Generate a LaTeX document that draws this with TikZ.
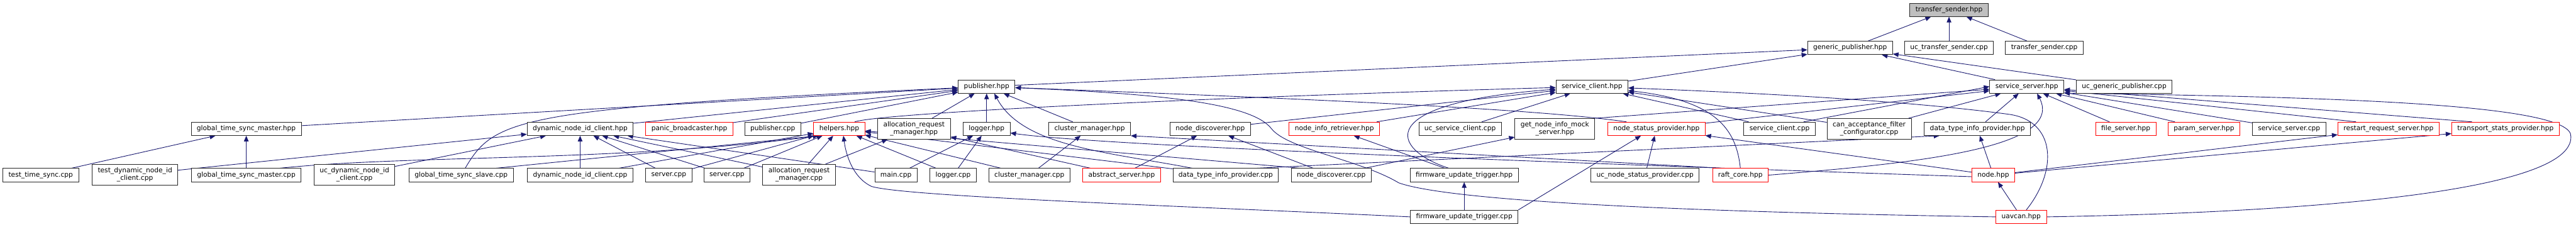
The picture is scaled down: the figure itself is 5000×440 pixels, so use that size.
\documentclass[tikz,border=0pt]{standalone}
\usepackage{fontspec}
\setmainfont{DejaVu Sans}
\usetikzlibrary{arrows.meta,backgrounds}
\definecolor{edgeblue}{RGB}{25,25,112}
\definecolor{rootgrey}{RGB}{191,191,191}
\tikzset{
    filebox/.style={
        draw=black!85,
        fill=white,
        line width=1pt,
        font=\fontsize{13pt}{15pt}\selectfont,
        align=center,
        inner xsep=11pt,
        inner ysep=6pt,
        minimum height=26pt
    },
    redbox/.style={filebox, draw=red},
    rootbox/.style={filebox, fill=rootgrey},
    incl/.style={-{Triangle[length=11pt,width=9pt]}, draw=edgeblue, line width=1.1pt}
}

\begin{document}
\begin{tikzpicture}[x=1pt,y=-1pt]
\useasboundingbox (0,0) rectangle (5000,440);

% ROOT
\node[rootbox] (ts) at (3783,19) {transfer\_sender.hpp};

% LEVEL 1
\node[filebox] (gpub)  at (3591,93) {generic\_publisher.hpp};
\node[filebox] (ucts)  at (3783,93) {uc\_transfer\_sender.cpp};
\node[filebox] (tscpp) at (3968,93) {transfer\_sender.cpp};

% LEVEL 2
\node[filebox] (pub)    at (1915,168) {publisher.hpp};
\node[filebox] (sc)     at (3090,168) {service\_client.hpp};
\node[filebox] (ss)     at (3934,168) {service\_server.hpp};
\node[filebox] (ucgpub) at (4123,168) {uc\_generic\_publisher.cpp};

% LEVEL 3
\node[filebox] (gtsmh)     at (478,250)  {global\_time\_sync\_master.hpp};
\node[filebox] (dnich)     at (1126,250) {dynamic\_node\_id\_client.hpp};
\node[redbox]  (panic)     at (1338,250) {panic\_broadcaster.hpp};
\node[filebox] (pubcpp)    at (1500,250) {publisher.cpp};
\node[redbox]  (helpers)   at (1629,250) {helpers.hpp};
\node[filebox] (armh)      at (1774,250) {allocation\_request\\\_manager.hpp};
\node[filebox] (loggerh)   at (1915,250) {logger.hpp};
\node[filebox] (clusterh)  at (2115,250) {cluster\_manager.hpp};
\node[filebox] (nodedisch) at (2349,250) {node\_discoverer.hpp};
\node[redbox]  (nir)       at (2590,250) {node\_info\_retriever.hpp};
\node[filebox] (ucsc)      at (2834,250) {uc\_service\_client.cpp};
\node[filebox] (mock)      at (3018,250) {get\_node\_info\_mock\\\_server.hpp};
\node[redbox]  (nsp)       at (3215,250) {node\_status\_provider.hpp};
\node[filebox] (sccpp)     at (3454,250) {service\_client.cpp};
\node[filebox] (canacc)    at (3628,250) {can\_acceptance\_filter\\\_configurator.cpp};
\node[filebox] (dtiph)     at (3838,250) {data\_type\_info\_provider.hpp};
\node[redbox]  (filesrv)   at (4126,250) {file\_server.hpp};
\node[redbox]  (paramsrv)  at (4278,250) {param\_server.hpp};
\node[filebox] (sscpp)     at (4443,250) {service\_server.cpp};
\node[redbox]  (restart)   at (4636,250) {restart\_request\_server.hpp};
\node[redbox]  (tsp)       at (4863,250) {transport\_stats\_provider.hpp};

% LEVEL 4
\node[filebox] (tts)         at (79,340)   {test\_time\_sync.cpp};
\node[filebox] (testdnic)    at (262,339)  {test\_dynamic\_node\_id\\\_client.cpp};
\node[filebox] (gtsmcpp)     at (478,340)  {global\_time\_sync\_master.cpp};
\node[filebox] (ucdnic)      at (688,339)  {uc\_dynamic\_node\_id\\\_client.cpp};
\node[filebox] (gtsslave)    at (895,340)  {global\_time\_sync\_slave.cpp};
\node[filebox] (dniccpp)     at (1126,340) {dynamic\_node\_id\_client.cpp};
\node[filebox] (server1)     at (1298,340) {server.cpp};
\node[filebox] (server2)     at (1411,340) {server.cpp};
\node[filebox] (armcpp)      at (1551,339) {allocation\_request\\\_manager.cpp};
\node[filebox] (maincpp)     at (1739,340) {main.cpp};
\node[filebox] (loggercpp)   at (1850,340) {logger.cpp};
\node[filebox] (clustercpp)  at (1998,340) {cluster\_manager.cpp};
\node[redbox]  (abstract)    at (2177,340) {abstract\_server.hpp};
\node[filebox] (dtipcpp)     at (2379,340) {data\_type\_info\_provider.cpp};
\node[filebox] (nodedisccpp) at (2584,340) {node\_discoverer.cpp};
\node[filebox] (futh)        at (2842,340) {firmware\_update\_trigger.hpp};
\node[filebox] (ucnsp)       at (3193,340) {uc\_node\_status\_provider.cpp};
\node[redbox]  (raft)        at (3378,340) {raft\_core.hpp};
\node[redbox]  (nodeh)       at (3869,340) {node.hpp};

% LEVEL 5
\node[filebox] (futcpp) at (2842,421) {firmware\_update\_trigger.cpp};
\node[redbox]  (uavcan) at (3923,421) {uavcan.hpp};

\begin{scope}[on background layer]
% into transfer_sender.hpp
\draw[incl] (gpub) -- (ts);
\draw[incl] (ucts) -- (ts);
\draw[incl] (tscpp) -- (ts);

% into generic_publisher.hpp
\draw[incl] (pub) -- (gpub);
\draw[incl] (sc) -- (gpub);
\draw[incl] (ss) -- (gpub);
\draw[incl] (ucgpub) -- (gpub);

% into publisher.hpp
\draw[incl] (gtsmh) -- (pub);
\draw[incl] (gtsslave) .. controls (960,230) and (1000,210) .. (pub);
\draw[incl] (dnich) -- (pub);
\draw[incl] (panic) -- (pub);
\draw[incl] (pubcpp) -- (pub);
\draw[incl] (armh) -- (pub);
\draw[incl] (loggerh) -- (pub);
\draw[incl] (clusterh) -- (pub);
\draw[incl] ([xshift=-58pt]nsp.north) .. controls (3000,214) and (2650,196) .. (pub);
\draw[incl] (uavcan.west) .. controls (3300,412) and (2820,392) .. (2715,355)
    .. controls (2640,310) and (2500,290) .. (2468,250)
    .. controls (2430,200) and (2250,182) .. (pub);
\draw[incl] ([xshift=-65pt]dtipcpp.north) .. controls (2150,295) and (1985,285) .. ([xshift=15pt]pub.south);

% into service_client.hpp
\draw[incl] (nodedisch) -- (sc);
\draw[incl] (nir) -- (sc);
\draw[incl] ([xshift=30pt]helpers.north) .. controls (1710,220) and (2300,190) .. (sc);
\draw[incl] ([xshift=-30pt]futh.north) .. controls (2700,290) and (2660,200) .. (sc);
\draw[incl] (ucsc) -- (sc);
\draw[incl] (sccpp) -- (sc);
\draw[incl] (canacc) -- (sc);
\draw[incl] (raft.north) .. controls (3370,250) and (3330,195) .. (sc);
\draw[incl] ([xshift=10pt]uavcan.north) .. controls (3995,330) and (3990,235) .. (3900,222)
    .. controls (3700,195) and (3400,180) .. (sc);

% into service_server.hpp
\draw[incl] (mock.north east) -- (ss);
\draw[incl] (nsp) -- (ss);
\draw[incl] ([xshift=-23pt]sccpp.north east) -- (ss.west);
\draw[incl] (canacc) -- (ss);
\draw[incl] (dtiph) -- (ss);
\draw[incl] (raft.east) .. controls (3700,318) and (4010,290) .. ([xshift=20pt]ss.south);
\draw[incl] (uavcan.east) .. controls (4500,412) and (4995,370) .. (4990,265)
    .. controls (4995,200) and (4500,188) .. (ss.-10);
\draw[incl] (filesrv) -- (ss);
\draw[incl] (paramsrv) -- (ss);
\draw[incl] (sscpp) -- (ss);
\draw[incl] ([xshift=-63pt]restart.north) -- (ss);
\draw[incl] ([xshift=-65pt]tsp.north) -- (ss);

% global time sync
\draw[incl] (tts) -- (gtsmh);
\draw[incl] (gtsmcpp) -- (gtsmh);

% into dynamic_node_id_client.hpp
\draw[incl] (testdnic) -- (dnich);
\draw[incl] (ucdnic) -- (dnich);
\draw[incl] (dniccpp) -- (dnich);
\draw[incl] (server1) -- (dnich);
\draw[incl] (server2) -- (dnich);
\draw[incl] (armcpp) -- (dnich);
\draw[incl] (maincpp) -- (dnich);

% into helpers.hpp
\draw[incl] ([xshift=65pt]gtsmcpp.north) .. controls (800,300) and (1200,315) .. ([xshift=-40pt]helpers.south);
\draw[incl] ([xshift=68pt]gtsslave.north) -- ([xshift=-40pt]helpers.south);
\draw[incl] (dniccpp) -- (helpers);
\draw[incl] (server1) -- (helpers);
\draw[incl] (server2) -- (helpers);
\draw[incl] (armcpp) -- (helpers);
\draw[incl] (loggercpp) -- (helpers);
\draw[incl] (clustercpp) -- (helpers);
\draw[incl] (dtipcpp) -- (helpers);
\draw[incl] ([xshift=-60pt]nodedisccpp.north) -- (helpers);
\draw[incl] (futcpp.west) .. controls (2300,400) and (1760,382) .. (1692,362)
    .. controls (1655,345) and (1642,300) .. ([xshift=8pt]helpers.south);

% allocation, logger, cluster
\draw[incl] (armcpp) -- (armh);
\draw[incl] (abstract) -- (armh);
\draw[incl] (maincpp) -- (loggerh);
\draw[incl] (loggercpp) -- (loggerh);
\draw[incl] ([yshift=-3pt]nodeh.west) .. controls (3200,322) and (2150,285) .. (loggerh.-10);
\draw[incl] (clustercpp) -- (clusterh);
\draw[incl] ([xshift=-36pt]raft.north) -- (clusterh.south east);

% discoverer, retriever, firmware update
\draw[incl] (abstract) -- (nodedisch);
\draw[incl] (nodedisccpp) -- (nodedisch);
\draw[incl] (nodedisccpp) -- (mock);
\draw[incl] (futh) -- (nir);
\draw[incl] (futcpp) -- (futh);

% node status, data type info, node
\draw[incl] (futcpp.north east) -- ([xshift=-30pt]nsp.south);
\draw[incl] (ucnsp) -- (nsp);
\draw[incl] (nodeh) -- (nsp);
\draw[incl] ([xshift=60pt]dtipcpp.north) -- ([xshift=30pt]dtiph.south west);
\draw[incl] (nodeh) -- (dtiph);
\draw[incl] (nodeh) -- (restart);
\draw[incl] (nodeh) -- (tsp);
\draw[incl] (uavcan) -- (nodeh);
\end{scope}

\end{tikzpicture}
\end{document}
